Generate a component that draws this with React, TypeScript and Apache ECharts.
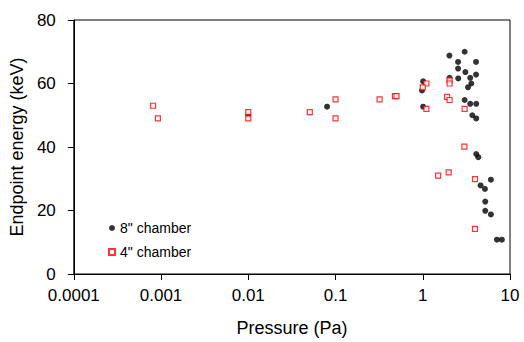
import React, { useEffect, useRef } from "react";
import * as echarts from "echarts";

// 8" chamber: [pressure (Pa), endpoint energy (keV)]
const chamber8: [number, number][] = [
  [0.01, 50], [0.08, 52.7],
  [1.01, 60.7], [0.98, 57.8], [1.01, 52.7],
  [2.02, 68.8], [3.02, 70], [2.54, 66.8], [4.08, 66.8], [2.54, 64.7],
  [3.08, 63.6], [4.08, 62.8], [3.5, 61.8], [2.55, 61.6], [2.03, 61.8],
  [3.6, 60], [3.3, 58.8], [3.02, 54.8], [3.5, 53.6], [4.1, 53.6],
  [3.7, 50], [4.1, 49],
  [4.1, 37.8], [4.33, 36.8], [6.04, 29.7], [4.6, 27.9], [5.16, 26.8],
  [5.2, 22.8], [5.2, 19.9], [6.04, 18.75], [7.08, 10.8], [8.07, 10.8],
];

// 4" chamber
const chamber4: [number, number][] = [
  [0.00081, 53], [0.00092, 49], [0.01, 51], [0.01, 49],
  [0.0507, 51], [0.1, 55], [0.1, 49], [0.32, 55], [0.48, 56], [0.5, 56],
  [1.1, 60], [1.0, 58.8], [2.03, 61], [2.03, 60], [1.9, 55.8], [2.03, 54.8],
  [1.1, 52], [3.02, 52],
  [3.0, 40.1], [1.5, 31], [1.98, 32], [3.97, 29.9], [3.97, 14.2],
];

const xTickLabels = ["0.0001", "0.001", "0.01", "0.1", "1", "10"];
const seriesNames = ['8" chamber', '4" chamber'];

export default function App() {
  const ref = useRef<HTMLDivElement>(null);
  useEffect(() => {
    if (!ref.current) return;
    const chart = echarts.init(ref.current, null, { renderer: "svg" });
    const font = "'Liberation Sans', Arial, sans-serif";
    chart.setOption({
      animation: false,
      backgroundColor: "#fff",
      textStyle: { fontFamily: font },
      grid: {
        left: 72,
        right: 14,
        top: 20,
        bottom: 66,
        show: true,
        borderColor: "#000",
        borderWidth: 1,
        backgroundColor: "transparent",
      },
      legend: {
        orient: "vertical",
        left: 103,
        top: 216,
        itemWidth: 6,
        itemHeight: 6,
        itemGap: 10,
        textStyle: { fontFamily: font, fontSize: 14, color: "#000" },
        data: seriesNames,
      },
      xAxis: {
        type: "log",
        logBase: 10,
        min: 0.0001,
        max: 10,
        name: "Pressure (Pa)",
        nameLocation: "middle",
        nameGap: 45,
        nameTextStyle: { fontFamily: font, fontSize: 18, color: "#000" },
        axisLine: { show: true, lineStyle: { color: "#000", width: 1 } },
        axisTick: { show: true, length: 6, lineStyle: { color: "#000" } },
        minorTick: { show: false },
        splitLine: { show: false },
        axisLabel: {
          fontFamily: font,
          fontSize: 17,
          color: "#000",
          margin: 13,
          formatter: (v: number) => {
            const i = Math.round(Math.log10(v)) + 4;
            return xTickLabels[i] ?? "";
          },
        },
      },
      yAxis: {
        type: "value",
        min: 0,
        max: 80,
        interval: 20,
        name: "Endpoint energy (keV)",
        nameLocation: "middle",
        nameGap: 42,
        nameTextStyle: { fontFamily: font, fontSize: 18, color: "#000" },
        axisLine: { show: true, lineStyle: { color: "#000", width: 1 } },
        axisTick: { show: true, length: 6, lineStyle: { color: "#000" } },
        splitLine: { show: false },
        axisLabel: { fontFamily: font, fontSize: 17, color: "#000", margin: 18 },
      },
      series: [
        {
          name: seriesNames[0],
          type: "scatter",
          data: chamber8,
          symbol: "circle",
          symbolSize: 6,
          itemStyle: { color: "#000" },
        },
        {
          name: seriesNames[1],
          type: "scatter",
          data: chamber4,
          symbol: "rect",
          symbolSize: 5,
          itemStyle: { color: "#fff", borderColor: "#ff0000", borderWidth: 1.2 },
        },
      ],
    });
    return () => chart.dispose();
  }, []);
  return (
    <div
      ref={ref}
      style={{ position: "absolute", left: 0, top: 0, width: 524, height: 342 }}
    />
  );
}
